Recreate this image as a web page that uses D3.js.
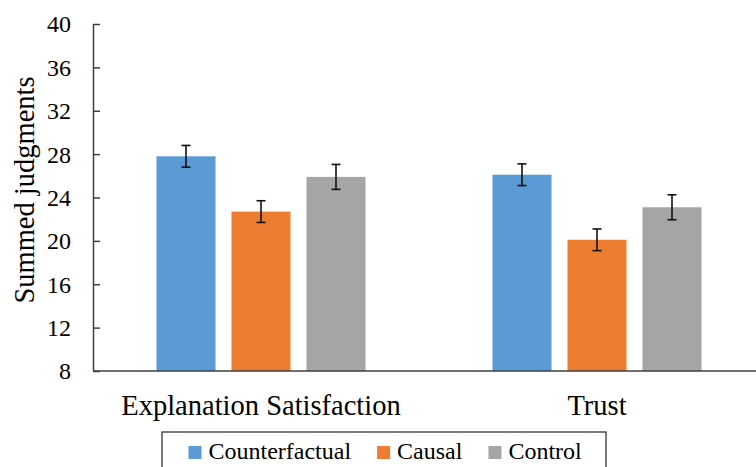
<!DOCTYPE html>
<html>
<head>
<meta charset="utf-8">
<script src="https://cdn.jsdelivr.net/npm/d3@7"></script>
<style>
  html, body { margin: 0; padding: 0; background: #fff; }
  svg { display: block; }
  text { font-family: 'Liberation Serif', 'Tinos', 'Times New Roman', 'DejaVu Serif', serif; }
</style>
</head>
<body>
<svg id="chart" width="756" height="467"></svg>
<script>
const categories = ["Explanation Satisfaction", "Trust"];
const seriesNames = ["Counterfactual", "Causal", "Control"];
const counterfactual = [27.8, 26.1];
const causal = [22.7, 20.1];
const control = [25.9, 23.1];
const counterfactualErr = [1.0, 1.0];
const causalErr = [1.0, 1.0];
const controlErr = [1.15, 1.15];
const yTicks = [8, 12, 16, 20, 24, 28, 32, 36, 40];
const colors = ["#5B9BD5", "#ED7D31", "#A5A5A5"];

(function () {
const FONT = "'Liberation Serif', 'Tinos', 'Times New Roman', 'DejaVu Serif', serif";
const seriesValues = [counterfactual, causal, control];
const seriesErrors = [counterfactualErr, causalErr, controlErr];

const svg = d3.select("#chart");
const pLeft = 93, pRight = 765, pTop = 24, pBottom = 371;

const x0 = d3.scaleBand().domain(categories).range([pLeft, pRight]).paddingInner(0).paddingOuter(0);
const x1 = d3.scaleBand().domain(seriesNames).range([0, x0.bandwidth()])
  .paddingInner(16 / 75).paddingOuter(0.8467);
const y = d3.scaleLinear().domain([8, 40]).range([pBottom, pTop]);
const color = d3.scaleOrdinal().domain(seriesNames).range(colors);

const data = [];
categories.forEach((c, i) => {
  seriesNames.forEach((s, j) => {
    data.push({ cat: c, series: s, value: seriesValues[j][i], err: seriesErrors[j][i] });
  });
});

// bars
svg.append("g").selectAll("rect").data(data).join("rect")
  .attr("x", d => x0(d.cat) + x1(d.series))
  .attr("y", d => y(d.value))
  .attr("width", x1.bandwidth())
  .attr("height", d => y(8) - y(d.value))
  .attr("fill", d => color(d.series));

// error bars
const eg = svg.append("g").attr("stroke", "#111").attr("stroke-width", 1.6).attr("fill", "none");
data.forEach(d => {
  const cx = x0(d.cat) + x1(d.series) + x1.bandwidth() / 2;
  const y1 = y(d.value + d.err), y2 = y(d.value - d.err);
  eg.append("line").attr("x1", cx).attr("x2", cx).attr("y1", y1).attr("y2", y2);
  eg.append("line").attr("x1", cx - 4.5).attr("x2", cx + 4.5).attr("y1", y1).attr("y2", y1);
  eg.append("line").attr("x1", cx - 4.5).attr("x2", cx + 4.5).attr("y1", y2).attr("y2", y2);
});

// y axis (inside ticks)
const yAxis = d3.axisRight(y).tickValues(yTicks).tickSize(7).tickFormat("");
const yg = svg.append("g").attr("transform", `translate(${pLeft},0)`).call(yAxis);
yg.select(".domain").attr("stroke", "#404040").attr("stroke-width", 1.5).attr("d", `M0.5,${pTop}V${pBottom}`);
yg.selectAll(".tick line").attr("stroke", "#404040").attr("stroke-width", 1.5);

// y tick labels
svg.append("g").selectAll("text").data(yTicks).join("text")
  .attr("x", 71).attr("y", d => y(d))
  .attr("dy", "0.35em")
  .attr("text-anchor", "end")
  .attr("font-family", FONT)
  .attr("font-size", 24)
  .attr("fill", "#000")
  .text(d => d);

// x axis
const xAxis = d3.axisBottom(x0).tickSize(0).tickFormat("");
const xg = svg.append("g").attr("transform", `translate(0,${pBottom})`).call(xAxis);
xg.select(".domain").attr("stroke", "#404040").attr("stroke-width", 1.6).attr("d", `M${pLeft},0H756`);

// category labels
svg.append("g").selectAll("text").data(categories).join("text")
  .attr("x", d => x0(d) + x0.bandwidth() / 2)
  .attr("y", 414.5)
  .attr("text-anchor", "middle")
  .attr("font-family", FONT)
  .attr("font-size", 28.5)
  .attr("fill", "#000")
  .text(d => d);

// y title
svg.append("text")
  .attr("transform", "translate(34,190) rotate(-90)")
  .attr("text-anchor", "middle")
  .attr("font-family", FONT)
  .attr("font-size", 28.5)
  .attr("fill", "#000")
  .text("Summed judgments");

// legend
const lg = svg.append("g");
lg.append("rect").attr("x", 162).attr("y", 432).attr("width", 444).attr("height", 60)
  .attr("fill", "#fff").attr("stroke", "#333").attr("stroke-width", 1.3);
let lx = 188.5;
seriesNames.forEach((s, i) => {
  lg.append("rect").attr("x", lx).attr("y", 446).attr("width", 13).attr("height", 13).attr("fill", color(s));
  const t = lg.append("text").attr("x", lx + 20).attr("y", 459)
    .attr("font-family", FONT).attr("font-size", 24).attr("fill", "#000").text(s);
  const w = t.node().getComputedTextLength();
  lx += 20 + w + 26;
});
})();
</script>
</body>
</html>
